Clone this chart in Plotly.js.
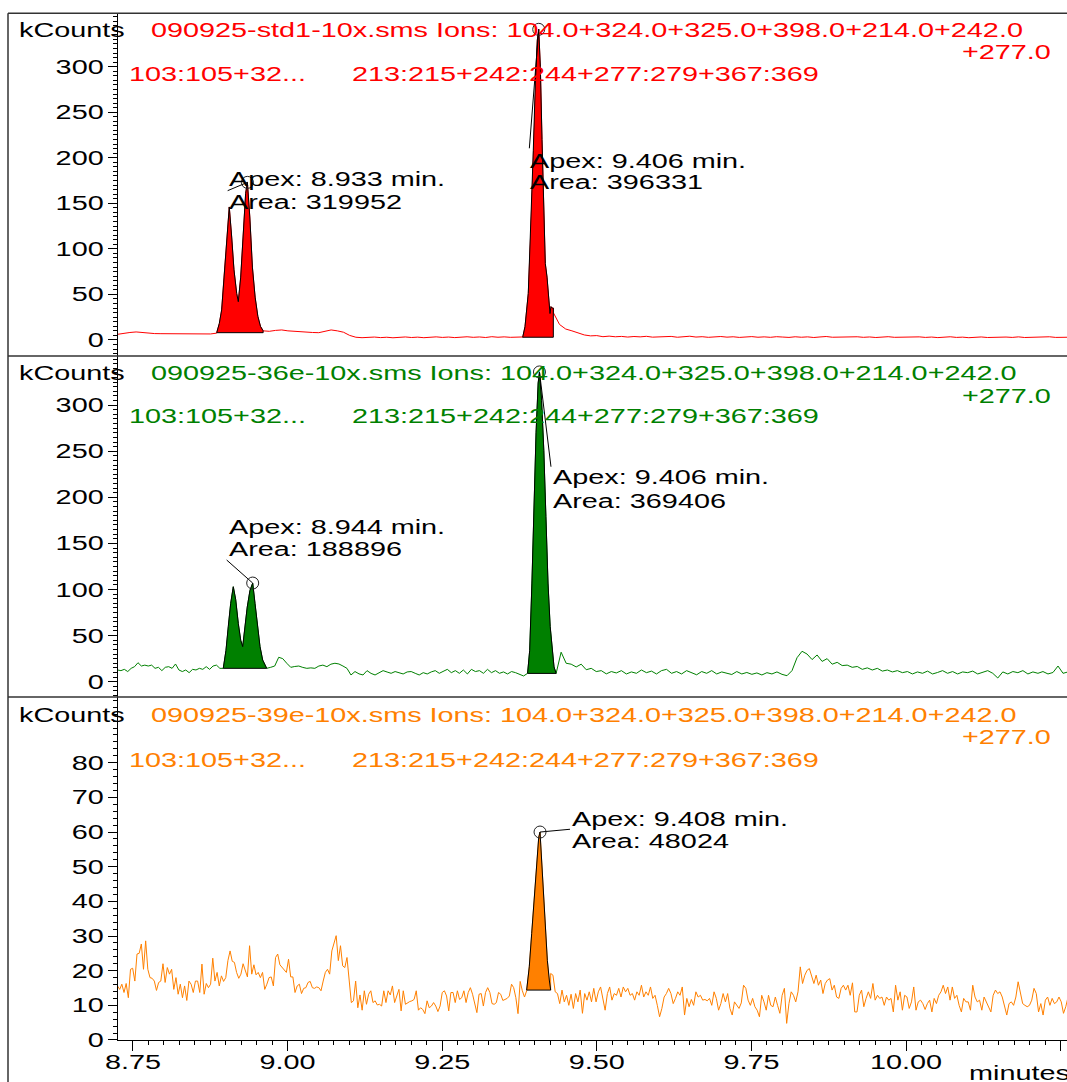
<!DOCTYPE html>
<html>
<head>
<meta charset="utf-8">
<script src="https://cdn.plot.ly/plotly-3.0.1.min.js"></script>
<style>
html,body{margin:0;padding:0;background:#fff;}
#plot{width:1067px;height:1082px;}
</style>
</head>
<body>
<div id="plot"></div>
<script>
// ---------------- DATA ----------------
const T_START = 8.725, T_END = 10.262;   // minutes, start / end of the acquisition shown

// Panel 1 (red) : 090925-std1-10x.sms
const redBase0 = [6.2, 7.5, 8.2, 8.8, 8.0, 7.2, 7.0, 6.9, 6.9, 7.0, 6.8, 6.9, 6.7, 6.6, 6.8, 6.6, 7.5];
const redPeak1T = [8.8854, 8.8896, 8.8934, 8.8972, 8.9015, 8.9057, 8.9096, 8.9133, 8.9177, 8.9203, 8.9242, 8.9284, 8.9322, 8.9350, 8.9389, 8.9431, 8.9475, 8.9519, 8.9561, 8.9605];
const redPeak1V = [8, 18, 33, 69, 113, 146, 113, 77, 51, 42, 69, 117, 161, 173, 135, 80, 47, 26, 15, 10];
const redBase1 = [10, 9.5, 10.5, 11.0, 10.0, 9.5, 8.6, 8.4, 8.2, 8.0, 9.5, 11.0, 10.0, 8.5, 5.0, 3.0, 2.5,
  2.8, 3.2, 2.6, 3.0, 2.4, 2.9, 3.3, 2.7, 3.1, 2.5, 3.0, 3.4, 2.8, 3.2, 2.6, 3.1, 3.5, 2.9, 3.3, 2.7,
  3.6, 3.0, 3.4, 2.9, 3.2, 3.3];
const redPeak2T = [9.3802, 9.3839, 9.3892, 9.3931, 9.3973, 9.4006, 9.4038, 9.4061, 9.4087, 9.4114, 9.4142, 9.4167, 9.4195, 9.4222, 9.4243, 9.4259, 9.4280, 9.4297];
const redPeak2V = [3, 14.6, 51, 117, 208, 282, 329, 341, 300, 220, 135, 84, 69, 51, 29, 36.6, 35, 35];
const redBase2 = [30, 17, 12, 10, 7.5, 5.5, 4.5, 4.8, 3.6, 4.2,
  3.5, 3.9, 3.2, 3.8, 3.4, 4.0, 3.1, 3.6, 3.3, 3.9,
  3.0, 3.5, 4.1, 3.2, 3.6, 2.9, 3.4, 3.8, 3.1, 3.5,
  2.8, 3.3, 3.7, 3.0, 3.4, 2.9, 3.6, 3.2, 2.8, 3.5,
  3.0, 3.4, 2.7, 3.3, 3.8, 3.0, 3.2, 2.6, 3.1, 3.5,
  2.9, 3.3, 2.7, 3.2, 3.6, 2.9, 3.1, 2.6, 3.0, 3.4,
  2.8, 3.2, 2.6, 3.0, 3.5, 2.8, 3.1, 2.5, 2.9, 3.3,
  2.7, 3.0, 2.5, 3.2, 2.8, 3.4, 2.7, 3.0, 2.6, 3.1,
  3.5, 2.8, 3.2, 3.0];

// Panel 2 (green) : 090925-36e-10x.sms
const greenBase0 = [12.7, 12, 13.4, 11, 14.5, 16.3, 20.6, 17, 18, 17, 18, 14.5, 15.6, 12, 15.6, 16.3,
  14.5, 19.2, 12.7, 11, 12.7, 9.8, 13.4, 12.7, 14.5, 13.4, 16.3, 13.4, 17, 18, 14.5, 14.5];
const greenPeak1T = [8.8960, 8.9004, 8.9041, 8.9080, 8.9122, 8.9161, 8.9203, 8.9242, 8.9274, 8.9311, 8.9348, 8.9392, 8.9436, 8.9473, 8.9510, 8.9554, 8.9597, 8.9635, 8.9662];
const greenPeak1V = [14.5, 34, 60, 85, 103, 89, 63, 45, 38, 60, 81, 99, 107, 85, 60, 38, 23.5, 17, 14.5];
const greenBase1 = [14.5, 15.6, 17, 26.5, 25, 20, 15.6, 16.5, 17, 15.5,
  14.5, 15, 14.5, 17, 18, 16.3, 19, 20, 19.2, 17,
  14.5, 7.3, 11, 8.5, 7.3, 12, 9, 7.3, 10, 12,
  10.5, 9.1, 11, 9.8, 8.4, 10.6, 11, 9.1, 7.3, 9.8,
  8.4, 10.6, 12, 9.1, 11, 13.4, 9.8, 12, 9.1, 12.7,
  8.4, 13.4, 11, 12, 9.1, 13.4, 9.8, 12, 9.1, 10.6,
  8.4, 11, 9.8, 8.4, 6.2, 9.1];
const greenPeak2T = [9.3881, 9.3915, 9.3951, 9.3984, 9.4018, 9.4052, 9.4073, 9.4107, 9.4143, 9.4177, 9.4211, 9.4246, 9.4280, 9.4308, 9.4342];
const greenPeak2V = [9, 34, 107, 197, 270, 324, 336, 305, 251, 179, 107, 60, 31, 16, 9];
const greenBase2 = [9, 32, 20, 19, 16, 19, 13, 14.5, 11, 12,
  8.5, 11, 9.5, 12, 8.4, 10.6, 9.1, 12.7, 9.8, 11.5,
  8.4, 12, 13.4, 9.1, 11, 8.4, 12, 10, 7.5, 11,
  9.1, 12, 8.4, 10.6, 9.5, 7.8, 11, 8.4, 10, 8,
  9.5, 7.3, 9.8, 8.4, 10.6, 8, 6.5, 12, 26, 33,
  30, 24, 29, 22, 25, 19, 21, 17.5, 18, 15.6,
  16.5, 13.4, 15, 12.7, 14.5, 11.5, 12.7, 10.6, 12, 9.8,
  11, 8.4, 10.6, 9.1, 11.5, 8.4, 10, 12, 9.1, 11,
  8.4, 10.6, 9.8, 11.5, 8.4, 10, 12, 9.1, 4, 10.6,
  8.4, 11, 9.8, 12, 8.4, 10.6, 9.1, 11, 8.4, 10,
  17, 9.1, 10.6];

// Panel 3 (orange) : 090925-39e-10x.sms
const orangeBase0 = [15.6, 14.6, 16.1, 13.7, 16.3, 12.2, 20.4, 20.7, 17, 24.8,
  25, 27.7, 20.4, 28.6, 20.4, 18, 17.8, 17, 14.3, 16.6,
  17, 22, 16.6, 20.9, 19, 20.4, 14.6, 18, 13.2, 16.1,
  12.2, 15.6, 11.4, 17, 16.1, 13.7, 17, 17, 13.7, 21.9,
  13.2, 16.3, 15.1, 16.1, 23.6, 17, 19.5, 15.6, 18.5, 16.9,
  18, 22.9, 25.7, 22.7, 22.4, 19.5, 17.8, 19, 22, 20.1,
  18.2, 27.2, 19, 21.7, 18.8, 19.5, 18, 19.5, 14.6, 16.1,
  18, 18.2, 15.6, 23.8, 24.8, 21.7, 20.9, 20.4, 19.5, 23.3,
  18.2, 18.2, 13.7, 15.6, 16.1, 13.4, 14.9, 15.1, 16.6, 16.9,
  15.1, 14.9, 15.3, 15.1, 14.2, 17, 19.5, 20.4, 19, 25.7,
  27.7, 30.1, 22.9, 27.2, 21.4, 20.9, 23.8, 18, 10.8, 11.3,
  17, 9.3, 13, 8.6, 14.2, 10.3, 13.2, 14.2, 10.8, 11.3,
  10.1, 10.3, 9.8, 14.2, 10.8, 14.2, 13, 15.6, 10.8, 12.7,
  14.6, 8.4, 14.2, 10.3, 10.8, 11.1, 11.3, 11.7, 14.2, 8.6,
  9.3, 8.8, 7.6, 11.3, 9.3, 9.8, 10.8, 9.8, 8.2, 9.8,
  13.7, 14.2, 12.7, 8.4, 13.7, 13.7, 10.8, 14.2, 11.7, 12.2,
  14.2, 10.8, 13.7, 15.1, 13.2, 10.8, 7.9, 13.2, 13.4, 9.8,
  13.7, 15.1, 13.7, 10.5, 10.3, 10.8, 13.7, 13.2, 11.4, 11.7,
  12, 12.7, 16.1, 15.1, 12.2, 7.6, 16.9, 14.2, 12.4, 14.2];
const orangePeakT = [9.3866, 9.3908, 9.3947, 9.3984, 9.4028, 9.4061, 9.4082, 9.4109, 9.4135, 9.4167, 9.4200, 9.4232, 9.4254];
const orangePeakV = [14.4, 21.1, 30.7, 40.3, 49.9, 58.5, 60, 51.8, 40.3, 30.7, 23, 17.3, 14.4];
const orangeBase1 = [19.2, 18.7, 13.9, 13.4, 10.5, 14.4, 11, 12.9, 10, 13.2,
  9.1, 13.4, 11, 14.4, 7.7, 13.4, 11.5, 13.9, 11, 14.9,
  11, 13.9, 15.3, 11.5, 8.6, 13.4, 15.3, 11.5, 13.4, 12.9,
  14.9, 12.4, 15.3, 13.9, 14.9, 12.9, 13.4, 11.5, 13.9, 12.9,
  15.8, 12.4, 13.9, 12.9, 15.3, 12, 12.9, 10, 6.7, 9.1,
  12.4, 13.4, 14.9, 13.4, 10.5, 12, 13.9, 12.9, 15.3, 7.2,
  12, 9.6, 11.7, 10, 13.9, 12.4, 12.9, 11.5, 11.7, 11.3,
  12, 10, 13.9, 12, 8.6, 10.5, 13.4, 11, 13.4, 9.1,
  7.2, 11, 10, 9.1, 10.7, 15.8, 14.9, 11.5, 10, 12,
  9.6, 8.6, 6.7, 12.9, 11, 8.6, 12.9, 10, 9.6, 12.4,
  10, 7.7, 12.9, 14.9, 4.8, 10.5, 13.9, 12.9, 11, 13.9,
  21.1, 16.3, 18.7, 20.1, 20.6, 18.2, 16.3, 18.7, 15.8, 17.3,
  13.4, 16.3, 17.3, 17.7, 14.4, 15.8, 12.4, 12, 14.9, 15.8,
  14.4, 15.8, 12.9, 16.5, 8.1, 8.1, 12.9, 14.4, 9.6, 12,
  13.9, 12, 16.3, 11.5, 12.9, 12, 12.4, 10, 12.4, 11.5,
  12, 8.1, 15.8, 11.5, 13.9, 8.6, 12.9, 12.4, 9.1, 11,
  15.3, 8.6, 11, 11.5, 10.5, 8.8, 10.5, 11.5, 8.1, 12,
  10.5, 12.9, 13.9, 15.8, 13.4, 15.3, 11.5, 15.3, 12, 12.9,
  10, 8.1, 12, 11, 11, 8.6, 15.8, 12.4, 11, 11.5,
  8.6, 12.4, 11, 9.1, 8.1, 12.9, 14.4, 13.4, 13.9, 12.4,
  10, 7.2, 10.5, 11, 10, 12.4, 16.8, 13.9, 10.5, 10,
  9.6, 10, 11.5, 14.9, 13.4, 8.1, 10.5, 7.2, 11.5, 12.4,
  10, 12, 10.5, 11, 12.4, 11, 7.7, 9.6, 12.4];

// Texts
const sampleNames = ['090925-std1-10x.sms', '090925-36e-10x.sms', '090925-39e-10x.sms'];
const ionsText = 'Ions: 104.0+324.0+325.0+398.0+214.0+242.0';
const ionsCont = '+277.0';
const rangeTextA = '103:105+32...';
const rangeTextB = '213:215+242:244+277:279+367:369';
const yUnit = 'kCounts';
const xUnit = 'minutes';
const peakLabels = [
  [['Apex: 8.933 min.', 'Area: 319952'], ['Apex: 9.406 min.', 'Area: 396331']],
  [['Apex: 8.944 min.', 'Area: 188896'], ['Apex: 9.406 min.', 'Area: 369406']],
  [['Apex: 9.408 min.', 'Area: 48024']]
];
const yTickVals = [[0, 50, 100, 150, 200, 250, 300], [0, 50, 100, 150, 200, 250, 300], [0, 10, 20, 30, 40, 50, 60, 70, 80]];
const xTickVals = [8.75, 9.00, 9.25, 9.50, 9.75, 10.00, 10.25];
const xTickText = ['8.75', '9.00', '9.25', '9.50', '9.75', '10.00', ''];

// ---------------- STYLE / LAYOUT ----------------
const W = 1067, H = 1082;
const FONT = 'Liberation Sans, Arial, sans-serif';
const STRETCH = 1.44;               // reference text is horizontally wide
const colors = ['#ff0000', '#008000', '#ff8000'];
const yDomains = [[0.67098, 0.98771], [0.35582, 0.67098], [0.03882, 0.35582]];
const yRanges = [[-17.6, 358.6], [-16.6, 353.3], [0, 98.96]];
const yMinor = [5, 5, 2];
const xDomain = [117.7 / W, 1];
const xRange = [8.7253, 10.2603];
const headerY = [[29.7, 52, 74.2], [372.5, 395.5, 416.5], [714.5, 736.5, 760]];   // px
// label positions: [x (min), line1 y, line2 y, leader start x, leader start y] in data units
const labelPos = [
  [[8.9031, 177.0, 151.8, 8.9031, 163.9], [9.3909, 196.5, 172.9, 9.3909, 210.4]],
  [[8.9031, 168.1, 143.9, 8.9015, 132.0], [9.4274, 221.5, 196.2, 9.4259, 233.2]],
  [[9.4575, 63.8, 57.5, 9.4567, 60.8]]
];

function uniformT(t0, t1, vals) {
  const n = vals.length;
  return vals.map((v, i) => t0 + (t1 - t0) * i / (n - 1));
}
const last = a => a[a.length - 1];

function buildSeries(bases, peaks) {
  let t = [], v = [];
  for (let i = 0; i < bases.length; i++) {
    const t0 = i === 0 ? T_START : last(peaks[i - 1][0]);
    const t1 = i === bases.length - 1 ? T_END : peaks[i][0][0];
    t = t.concat(uniformT(t0, t1, bases[i]));
    v = v.concat(bases[i]);
    if (i < peaks.length) { t = t.concat(peaks[i][0]); v = v.concat(peaks[i][1]); }
  }
  return {t, v};
}

const panelPeaks = [
  [[redPeak1T, redPeak1V], [redPeak2T, redPeak2V]],
  [[greenPeak1T, greenPeak1V], [greenPeak2T, greenPeak2V]],
  [[orangePeakT, orangePeakV]]
];
const panelBases = [
  [redBase0, redBase1, redBase2],
  [greenBase0, greenBase1, greenBase2],
  [orangeBase0, orangeBase1]
];

const traces = [];
const annotations = [];
const layout = {
  width: W, height: H,
  margin: {l: 0, r: 0, t: 0, b: 0, pad: 0},
  paper_bgcolor: '#ffffff', plot_bgcolor: '#ffffff',
  showlegend: false,
  font: {family: FONT, size: 20, color: '#000'},
  xaxis: {
    domain: xDomain, range: xRange, anchor: 'y3',
    showline: true, linecolor: '#000', linewidth: 1, mirror: false,
    ticks: 'outside', ticklen: 10, tickwidth: 1, tickcolor: '#000',
    tickmode: 'array', tickvals: xTickVals, ticktext: xTickText,
    ticklabelstandoff: -6,
    minor: {tick0: 8.75, dtick: 0.025, ticks: 'outside', ticklen: 4, tickwidth: 1, tickcolor: '#000'},
    showgrid: false, zeroline: false, fixedrange: true,
    tickfont: {family: FONT, size: 20, color: '#000'}
  },
  shapes: [],
  annotations: annotations
};

const ann = (text, x, y, xref, yref, color) => ({
  text, x, y, xref, yref, xanchor: 'left', yanchor: 'middle', align: 'left',
  showarrow: false, borderpad: 0, font: {family: FONT, size: 20, color}
});

for (let k = 0; k < 3; k++) {
  const yName = k === 0 ? 'yaxis' : 'yaxis' + (k + 1);
  const yRef = k === 0 ? 'y' : 'y' + (k + 1);
  layout[yName] = {
    domain: yDomains[k], range: yRanges[k], anchor: 'x',
    showline: true, linecolor: '#000', linewidth: 1,
    ticks: 'outside', ticklen: 9, tickwidth: 1, tickcolor: '#000',
    tickmode: 'array', tickvals: yTickVals[k], ticktext: yTickVals[k].map(String),
    minor: {tick0: 0, dtick: yMinor[k], ticks: 'outside', ticklen: 4, tickwidth: 1, tickcolor: '#000'},
    showgrid: false, zeroline: false, fixedrange: true,
    tickfont: {family: FONT, size: 20, color: '#000'}
  };
  const s = buildSeries(panelBases[k], panelPeaks[k]);
  traces.push({x: s.t, y: s.v, xaxis: 'x', yaxis: yRef, type: 'scatter', mode: 'lines',
    line: {color: colors[k], width: 1}, hoverinfo: 'skip'});
  panelPeaks[k].forEach((pk, j) => {
    const [pt, pv] = pk;
    const b = pv[0];
    traces.push({x: pt.concat([last(pt), pt[0]]), y: pv.concat([b, b]), xaxis: 'x', yaxis: yRef,
      type: 'scatter', mode: 'lines', fill: 'toself', fillcolor: colors[k],
      line: {color: '#000', width: 1}, hoverinfo: 'skip'});
    let ai = 0; pv.forEach((v, i) => { if (v > pv[ai]) ai = i; });
    const lp = labelPos[k][j];
    traces.push({x: [lp[3], pt[ai]], y: [lp[4], pv[ai]], xaxis: 'x', yaxis: yRef, type: 'scatter',
      mode: 'lines', line: {color: '#000', width: 1}, hoverinfo: 'skip'});
    traces.push({x: [pt[ai]], y: [pv[ai]], xaxis: 'x', yaxis: yRef, type: 'scatter', mode: 'markers',
      marker: {symbol: 'circle-open', size: 12, color: '#222', line: {width: 1, color: '#222'}}, hoverinfo: 'skip'});
    annotations.push(ann(peakLabels[k][j][0], lp[0], lp[1], 'x', yRef, '#000'));
    annotations.push(ann(peakLabels[k][j][1], lp[0], lp[2], 'x', yRef, '#000'));
  });
  const hy = headerY[k].map(py => 1 - py / H);
  annotations.push(ann(yUnit, 18.3 / W, hy[0], 'paper', 'paper', '#000'));
  annotations.push(ann(sampleNames[k] + ' ' + ionsText, 150 / W, hy[0], 'paper', 'paper', colors[k]));
  annotations.push(ann(ionsCont, 960.6 / W, hy[1], 'paper', 'paper', colors[k]));
  annotations.push(ann(rangeTextA, 128 / W, hy[2], 'paper', 'paper', colors[k]));
  annotations.push(ann(rangeTextB, 350.7 / W, hy[2], 'paper', 'paper', colors[k]));
}
annotations.push(ann(xUnit, 968 / W, 1 - 1073.1 / H, 'paper', 'paper', '#000'));

// frame lines
const frameColor = '#333';
[13.3, 356, 697].forEach(py => layout.shapes.push({type: 'line', xref: 'paper', yref: 'paper',
  x0: 8 / W, x1: 1, y0: 1 - py / H, y1: 1 - py / H, line: {color: frameColor, width: 1.5}}));
layout.shapes.push({type: 'line', xref: 'paper', yref: 'paper', x0: 8 / W, x1: 8 / W, y0: 0, y1: 1 - 13.3 / H,
  line: {color: frameColor, width: 1.5}});

// Widen every text horizontally (the reference glyphs are ~1.44x wider than tall),
// keeping each text's anchor edge in place.
function stretchText() {
  document.querySelectorAll('#plot svg text').forEach(el => {
    if (!el.textContent || el.getAttribute('data-stretched')) return;
    const w = el.getComputedTextLength();
    if (!(w > 0)) return;
    const anchor = el.getAttribute('text-anchor') || getComputedStyle(el).textAnchor || 'start';
    const x = parseFloat(el.getAttribute('x') || '0');
    const nw = w * STRETCH;
    let nx = x;
    if (anchor === 'end') nx = x - nw;
    else if (anchor === 'middle') nx = x - nw / 2;
    el.setAttribute('text-anchor', 'start');
    el.style.textAnchor = 'start';
    el.setAttribute('x', nx.toFixed(2));
    el.setAttribute('textLength', nw.toFixed(2));
    el.setAttribute('lengthAdjust', 'spacingAndGlyphs');
    el.setAttribute('data-stretched', '1');
  });
}

Plotly.newPlot('plot', traces, layout, {staticPlot: true, displayModeBar: false}).then(() => {
  stretchText();
  requestAnimationFrame(stretchText);
  setTimeout(stretchText, 50);
  setTimeout(stretchText, 300);
});
</script>
</body>
</html>
